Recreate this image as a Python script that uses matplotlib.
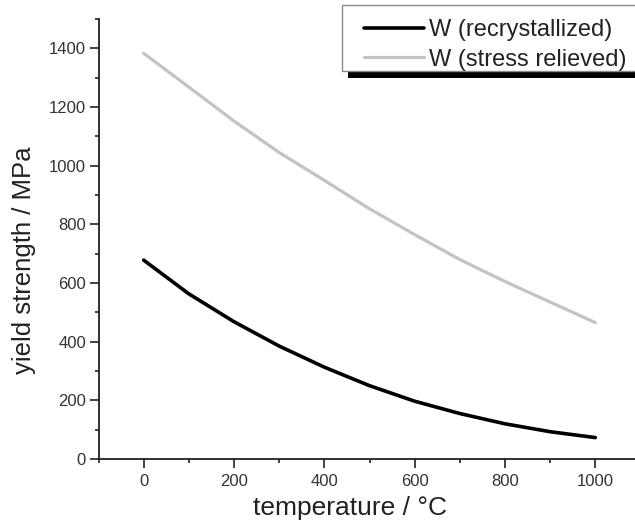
import matplotlib
matplotlib.use("Agg")
import matplotlib.pyplot as plt
from matplotlib.lines import Line2D
from matplotlib.legend_handler import HandlerLine2D
from matplotlib.patches import Rectangle
from matplotlib.transforms import IdentityTransform
from matplotlib.ticker import MultipleLocator

temperature = [0, 100, 200, 300, 400, 500, 600, 700, 800, 900, 1000]
w_recrystallized = [678, 563, 468, 385, 313, 250, 197, 155, 120, 93, 73]
w_stress_relieved = [1383, 1268, 1152, 1045, 950, 853, 765, 680, 605, 535, 465]
labels = ["W (recrystallized)", "W (stress relieved)"]

plt.rcParams['font.family'] = ['Liberation Sans', 'DejaVu Sans']

W, H = 635, 530
fig = plt.figure(figsize=(W / 100, H / 100), dpi=100)
ax = fig.add_axes([98.5 / W, 71 / H, 542 / W, 440 / H])

l1, = ax.plot(temperature, w_recrystallized, color='black', lw=2.6, solid_capstyle='round', label=labels[0])
l2, = ax.plot(temperature, w_stress_relieved, color='#c3c3c3', lw=2.3, solid_capstyle='round', label=labels[1])

ax.set_xlim(-100, 1100)
ax.set_ylim(0, 1500)
ax.xaxis.set_major_locator(MultipleLocator(200))
ax.xaxis.set_minor_locator(MultipleLocator(100))
ax.yaxis.set_major_locator(MultipleLocator(200))
ax.yaxis.set_minor_locator(MultipleLocator(100))

for s in ['top', 'right']:
    ax.spines[s].set_visible(False)
for s in ['left', 'bottom']:
    ax.spines[s].set_linewidth(1.3)
    ax.spines[s].set_color('#222222')

ax.tick_params(which='major', direction='out', length=6.5, width=1.2, color='#222222',
               labelsize=12, labelcolor='#333333')
ax.tick_params(which='minor', direction='out', length=3.2, width=1.2, color='#222222')
ax.tick_params(axis='y', which='major', pad=2.5)
ax.tick_params(axis='x', which='major', pad=4)

ax.set_xlabel('temperature / °C', fontsize=19, color='#222222')
ax.set_ylabel('yield strength / MPa', fontsize=18.5, color='#222222')
ax.xaxis.set_label_coords(0.464, -0.085)
ax.yaxis.set_label_coords(-0.115, 0.452)

leg = ax.legend(handles=[l1, l2], loc='upper left',
                bbox_to_anchor=(342.7 / W, 0.5, (680 - 342.7) / W, 1 - 13 / H - 0.5),
                bbox_transform=fig.transFigure, mode='expand', borderaxespad=0,
                fontsize=17, frameon=False,
                handlelength=3.2, handletextpad=0.2, borderpad=0.25, labelspacing=0.33,
                handler_map={Line2D: HandlerLine2D(xpad=0.65)})
for t in leg.get_texts():
    t.set_color('#222222')
leg.set_zorder(5)

# legend frame and drop shadow (figure pixel coordinates)
box_x0, box_top, box_bottom = 342.3, 5.3, 71.0
shadow = Rectangle((box_x0 + 6, H - box_bottom - 7), 400, box_bottom - box_top,
                   transform=IdentityTransform(), facecolor='black', edgecolor='none',
                   zorder=4.8, clip_on=False)
frame = Rectangle((box_x0, H - box_bottom), 400, box_bottom - box_top,
                  transform=IdentityTransform(), facecolor='white', edgecolor='#8a8a8a',
                  lw=1.0, zorder=4.9, clip_on=False)
ax.add_artist(shadow)
ax.add_artist(frame)

fig.savefig('out.png', dpi=100)
